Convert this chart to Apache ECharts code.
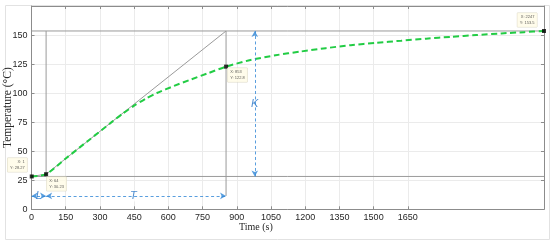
<!DOCTYPE html>
<html><head><meta charset="utf-8">
<script src="https://cdn.jsdelivr.net/npm/echarts@6/dist/echarts.min.js"></script>
<style>html,body{margin:0;padding:0;background:#fff}#c{width:550px;height:241px}</style>
</head><body><div id="c"></div>
<script>
// ---- data ----
const xTicks = [0,150,300,450,600,750,900,1050,1200,1350,1500,1650];
const yTicks = [0,25,50,75,100,125,150];
const curveX = [0,64,150,250,350,400,450,500,550,625,700,775,853,960,1070,1180,1290,1400,1510,1620,1730,1840,1950,2060,2160,2247];
const curveY = [28.27,30.23,43.7,59.3,74.8,82.4,89.2,95.1,100.1,106.2,111.8,117.2,122.8,128.5,132.6,135.8,138.7,141.3,143.3,145.1,146.9,148.5,150,151.4,152.5,153.5];
const tipX = [1,64,853,2247];
const tipY = [28.27,30.23,122.8,153.5];
const baseLevel = 28.27, finalLevel = 153.5;
const delayL = 64, delayY = 30.23, endLT = 853, kAt = 979, arrowLevel = 11.5;
const xMax = 2247, yMax = 175;

// ---- styles ----
const gray = '#9a9a9a';
const blue = '#2f86d6';
const tipPos = [
  {position:[-2.5,-2.5], align:'right', verticalAlign:'bottom'},
  {position:[2.6,4.7], align:'left', verticalAlign:'top'},
  {position:[3.6,3.4], align:'left', verticalAlign:'top'},
  {position:[-5,-2], align:'right', verticalAlign:'bottom'}
];

const chart = echarts.init(document.getElementById('c'), null, {renderer:'canvas'});
const arrowML = (from,to) => [{coord:from},{coord:to}];

const option = {
  animation:false,
  backgroundColor:'#fff',
  grid:{left:31.5, right:6, top:6, bottom:31.7, show:false, containLabel:false, outerBoundsMode:'none'},
  xAxis:[
    {type:'value', min:0, max:xMax, position:'bottom',
     axisLine:{show:true, onZero:false, lineStyle:{color:'#8c8c8c', width:1}},
     axisTick:{show:true, inside:true, length:3, customValues:xTicks, lineStyle:{color:'#8c8c8c'}},
     axisLabel:{show:true, customValues:xTicks, fontSize:9, color:'#262626', fontFamily:'Liberation Sans', margin:4,
       formatter:v => String(v)},
     splitLine:{show:true, lineStyle:{color:'#ebebeb', width:1}}},
    {type:'value', min:0, max:xMax, position:'top',
     axisLine:{show:true, onZero:false, lineStyle:{color:'#8c8c8c', width:1}},
     axisTick:{show:true, inside:true, length:3, customValues:xTicks, lineStyle:{color:'#8c8c8c'}},
     axisLabel:{show:false}, splitLine:{show:false}}
  ],
  yAxis:[
    {type:'value', min:0, max:yMax, interval:25, position:'left',
     name:'Temperature (°C)', nameLocation:'middle', nameGap:18, nameMoveOverlap:false,
     nameTextStyle:{fontFamily:'Liberation Serif', fontSize:11.5, color:'#262626'},
     axisLine:{show:true, onZero:false, lineStyle:{color:'#8c8c8c', width:1}},
     axisTick:{show:true, inside:true, length:3, lineStyle:{color:'#8c8c8c'}},
     axisLabel:{fontSize:9, color:'#262626', fontFamily:'Liberation Sans', margin:4,
       formatter:v => yTicks.includes(v) ? String(v) : ''},
     splitLine:{show:true, lineStyle:{color:'#ebebeb', width:1}}},
    {type:'value', min:0, max:yMax, interval:25, position:'right',
     axisLine:{show:true, onZero:false, lineStyle:{color:'#8c8c8c', width:1}},
     axisTick:{show:true, inside:true, length:3, lineStyle:{color:'#8c8c8c'}},
     axisLabel:{show:false}, splitLine:{show:false}}
  ],
  graphic:[
    {type:'rect', left:3, top:3, shape:{width:544, height:234}, style:{fill:'none', stroke:'#e2e2e2', lineWidth:1}, silent:true, z:-1},
    {type:'text', left:239, top:222, style:{text:'Time (s)', font:'10px "Liberation Serif"', fill:'#262626'}}
  ],
  series:[
    {type:'line', name:'base', data:[[0,baseLevel],[xMax,baseLevel]], symbol:'none', lineStyle:{color:gray,width:1}, silent:true},
    {type:'line', name:'final', data:[[0,finalLevel],[xMax,finalLevel]], symbol:'none', lineStyle:{color:gray,width:1}, silent:true},
    {type:'line', name:'vL', data:[[delayL,baseLevel],[delayL,finalLevel]], symbol:'none', lineStyle:{color:gray,width:1}, silent:true},
    {type:'line', name:'vT', data:[[endLT,arrowLevel],[endLT,finalLevel]], symbol:'none', lineStyle:{color:gray,width:1}, silent:true},
    {type:'line', name:'tangent', data:[[0,baseLevel],[delayL,delayY],[endLT,finalLevel]], symbol:'none', lineStyle:{color:gray,width:1}, silent:true},
    {type:'line', name:'curve', data:curveX.map((x,i)=>[x,curveY[i]]), symbol:'none', smooth:0.25,
     lineStyle:{color:'#22cc44', width:2, type:[6,3.5]}, silent:true, z:3,
     markLine:{silent:true, symbol:['arrow','arrow'], symbolSize:[5,6],
       lineStyle:{color:blue, type:[3,2.5], width:1, opacity:0.8}, label:{show:false},
       data:[arrowML([0,arrowLevel],[delayL,arrowLevel]), arrowML([delayL,arrowLevel],[endLT,arrowLevel]), arrowML([kAt,baseLevel],[kAt,finalLevel])]}},
    {type:'scatter', name:'letters', symbolSize:0, z:4,
     data:[[32,arrowLevel,'L'],[447,arrowLevel,'T'],[kAt,(baseLevel+finalLevel)/2,'K']],
     label:{show:true, position:'inside', formatter:p=>p.data[2], color:'#1f6fc4', fontSize:11, fontStyle:'italic',
       fontFamily:'Liberation Sans', backgroundColor:'#fff', padding:[0,1]}},
    {type:'scatter', name:'tips', symbol:'rect', symbolSize:4, z:5,
     itemStyle:{color:'#000'},
     data:tipX.map((x,i)=>({value:[x,tipY[i]], label:tipPos[i]})),
     label:{show:true, formatter:p=>'X: '+p.value[0]+'\nY: '+p.value[1], fontSize:4, lineHeight:5.5,
       color:'#333', fontFamily:'Liberation Sans', backgroundColor:'#fffbe6', borderColor:'#d8d4c0', borderWidth:0.5, padding:[1.5,2.5]}}
  ]
};
chart.setOption(option);
</script></body></html>
